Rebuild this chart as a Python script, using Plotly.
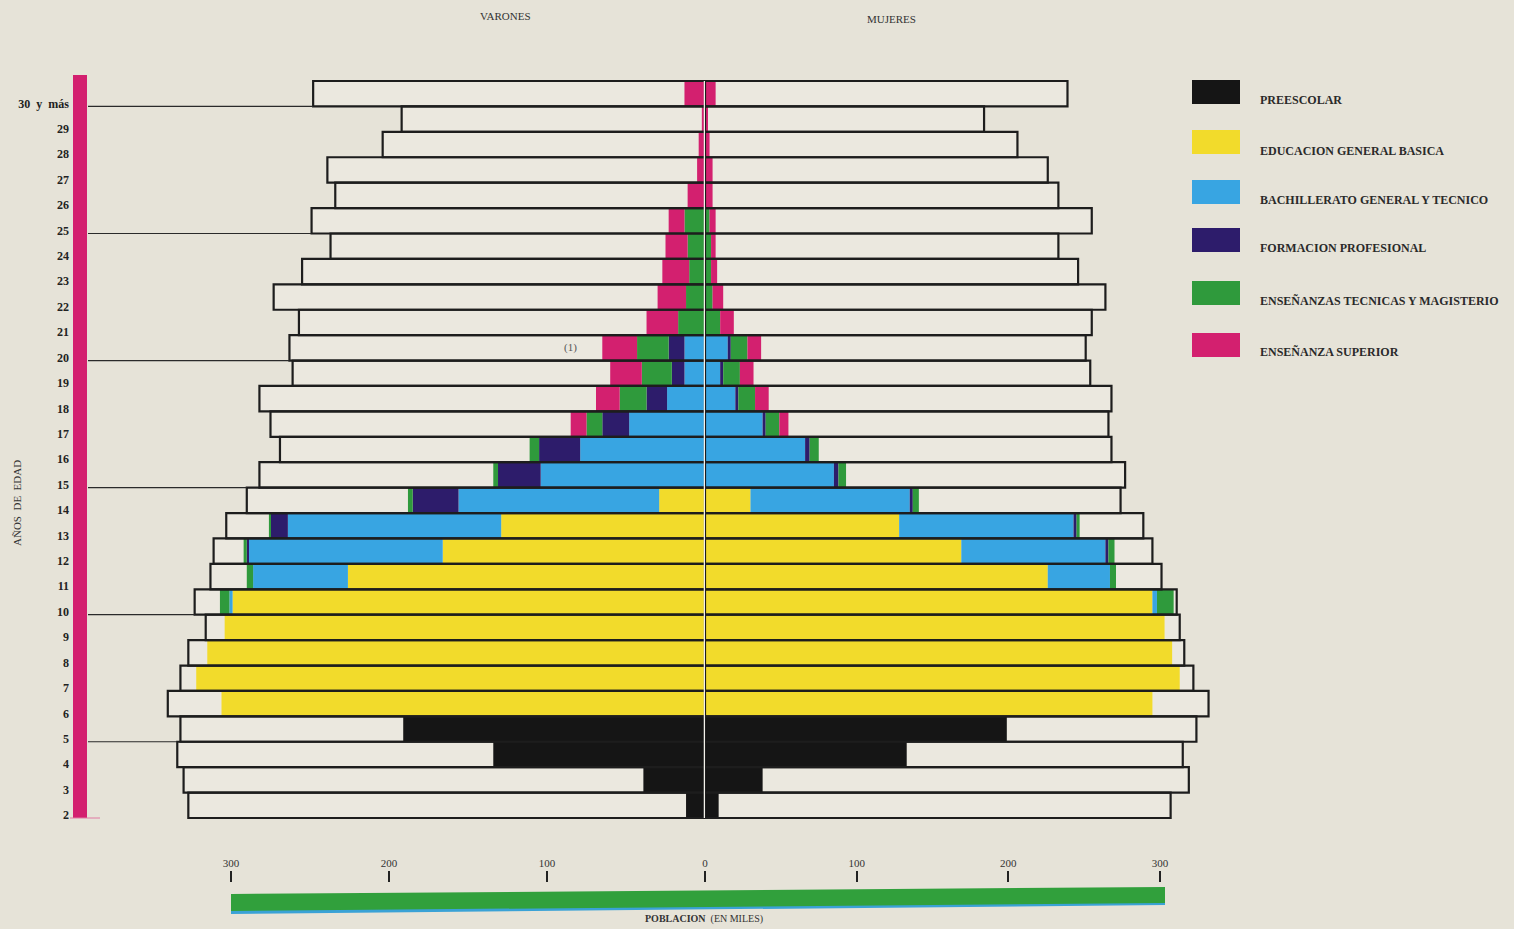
import plotly.graph_objects as go

# ---------------- data (thousands) ----------------
ages = [2, 3, 4, 5, 6, 7, 8, 9, 10, 11, 12, 13, 14, 15, 16, 17, 18, 19, 20, 21, 22, 23, 24, 25, 26, 27, 28, 29, 30]
age_labels = ["2", "3", "4", "5", "6", "7", "8", "9", "10", "11", "12", "13", "14", "15", "16",
              "17", "18", "19", "20", "21", "22", "23", "24", "25", "26", "27", "28", "29", "30  y  más"]

male_pop = [327, 330, 334, 332, 340, 332, 327, 316, 323, 313, 311, 303, 290, 282, 269,
            275, 282, 261, 263, 257, 273, 255, 237, 249, 234, 239, 204, 192, 248]
female_pop = [307, 319, 315, 324, 332, 322, 316, 313, 311, 301, 295, 289, 274, 277, 268,
              266, 268, 254, 251, 255, 264, 246, 233, 255, 233, 226, 206, 184, 239]

#            2   3    4    5    6    7    8    9   10   11   12   13   14   15  16  17  18  19  20  21  22  23  24  25  26 27 28 29 30
preesc_m = [12, 39, 134, 191, 0, 0, 0, 0, 0, 0, 0, 0, 0, 0, 0, 0, 0, 0, 0, 0, 0, 0, 0, 0, 0, 0, 0, 0, 0]
egb_m = [0, 0, 0, 0, 306, 322, 315, 304, 299, 226, 166, 129, 29, 0, 0, 0, 0, 0, 0, 0, 0, 0, 0, 0, 0, 0, 0, 0, 0]
bach_m = [0, 0, 0, 0, 0, 0, 0, 0, 2, 60, 123, 135, 127, 104, 79, 48, 24, 13, 13, 0, 0, 0, 0, 0, 0, 0, 0, 0, 0]
fp_m = [0, 0, 0, 0, 0, 0, 0, 0, 0, 0, 1, 11, 29, 27, 26, 17, 13, 8, 10, 0, 0, 0, 0, 0, 0, 0, 0, 0, 0]
tec_m = [0, 0, 0, 0, 0, 0, 0, 0, 6, 4, 2, 1, 3, 3, 6, 10, 17, 19, 20, 17, 12, 10, 11, 13, 0, 0, 0, 0, 0]
sup_m = [0, 0, 0, 0, 0, 0, 0, 0, 0, 0, 0, 0, 0, 0, 0, 10, 15, 20, 22, 20, 18, 17, 14, 10, 11, 5, 4, 2, 13]

preesc_f = [9, 38, 133, 199, 0, 0, 0, 0, 0, 0, 0, 0, 0, 0, 0, 0, 0, 0, 0, 0, 0, 0, 0, 0, 0, 0, 0, 0, 0]
egb_f = [0, 0, 0, 0, 295, 313, 308, 303, 295, 226, 169, 128, 30, 0, 0, 0, 0, 0, 0, 0, 0, 0, 0, 0, 0, 0, 0, 0, 0]
bach_f = [0, 0, 0, 0, 0, 0, 0, 0, 3, 41, 95, 115, 105, 85, 66, 38, 20, 10, 15, 0, 0, 0, 0, 0, 0, 0, 0, 0, 0]
fp_f = [0, 0, 0, 0, 0, 0, 0, 0, 0, 0, 2, 2, 2, 3, 3, 2, 2, 2, 2, 0, 0, 0, 0, 0, 0, 0, 0, 0, 0]
tec_f = [0, 0, 0, 0, 0, 0, 0, 0, 11, 4, 4, 2, 4, 5, 6, 9, 11, 11, 11, 10, 5, 4, 4, 3, 0, 0, 0, 0, 0]
sup_f = [0, 0, 0, 0, 0, 0, 0, 0, 0, 0, 0, 0, 0, 0, 0, 6, 9, 9, 9, 9, 7, 4, 3, 4, 5, 5, 3, 2, 7]

categories = ["PREESCOLAR", "EDUCACION GENERAL BASICA", "BACHILLERATO GENERAL Y TECNICO",
              "FORMACION PROFESIONAL", "ENSEÑANZAS TECNICAS Y MAGISTERIO", "ENSEÑANZA SUPERIOR"]
colors = ["#151515", "#f2db2b", "#38a5e2", "#2d1c6b", "#2f9a3c", "#d3206f"]
male_series = [preesc_m, egb_m, bach_m, fp_m, tec_m, sup_m]
female_series = [preesc_f, egb_f, bach_f, fp_f, tec_f, sup_f]

axis_ticks = [0, 100, 200, 300]
guide_ages = [30, 25, 20, 15, 10, 5]

# ---------------- layout geometry ----------------
W, H = 1514, 929
L, R, T, B = 88, 300, 62, 47
PW, PH = W - L - R, H - T - B


def pxx(p):
    return (p - L) / PW


def pxy(p):
    return (H - B - p) / PH


male_range = [390.5, 0]
female_range = [0, 335.6]
center = (705 - L) / PW
y_range = [-0.518, 31.748]

BG = "#e6e3d8"
BAR_FILL = "#ebe8df"
INK = "#1d1d1d"
SERIF = "Liberation Serif, Times New Roman, serif"

fig = go.Figure()
yc = [a + 0.5 for a in ages]

# cream population bars (underneath)
for pop, ax in [(male_pop, "x"), (female_pop, "x2")]:
    fig.add_trace(go.Bar(y=yc, x=pop, orientation="h", width=1, xaxis=ax, yaxis="y",
                         marker=dict(color=BAR_FILL, line=dict(width=0)),
                         showlegend=False, hoverinfo="skip"))

# stacked enrollment segments, from centre outward
for series, ax in [(male_series, "x"), (female_series, "x2")]:
    base = [0] * len(ages)
    for vals, col, name in zip(series, colors, categories):
        fig.add_trace(go.Bar(y=yc, x=vals, base=list(base), orientation="h", width=1,
                             xaxis=ax, yaxis="y", name=name,
                             marker=dict(color=col, line=dict(width=0)),
                             showlegend=False, hoverinfo="skip"))
        base = [b + v for b, v in zip(base, vals)]

# black outlines of the population bars (on top)
for pop, ax in [(male_pop, "x"), (female_pop, "x2")]:
    fig.add_trace(go.Bar(y=yc, x=pop, orientation="h", width=1, xaxis=ax, yaxis="y",
                         marker=dict(color="rgba(0,0,0,0)", line=dict(width=2.2, color=INK)),
                         showlegend=False, hoverinfo="skip"))

shapes = []
# magenta vertical bar on the left
shapes.append(dict(type="rect", xref="paper", yref="y", x0=pxx(73), x1=pxx(87), y0=2, y1=31.24,
                   fillcolor="#d3206f", line=dict(width=0), layer="above"))
shapes.append(dict(type="line", xref="paper", yref="y", x0=pxx(70), x1=pxx(100), y0=2, y1=2,
                   line=dict(color="#e07aa3", width=1), layer="above"))
# guide lines every 5 years
for a in guide_ages:
    i = ages.index(a)
    edge = max(male_pop[i], male_pop[i - 1])
    shapes.append(dict(type="line", xref="x", yref="y", x0=male_range[0], x1=edge, y0=a, y1=a,
                       line=dict(color="#2a2a2a", width=1.2), layer="above"))
# white centre line
shapes.append(dict(type="line", xref="x", yref="y", x0=0, x1=0, y0=2, y1=31,
                   line=dict(color="#f4f2eb", width=2.5), layer="above"))

# green population scale bar (slightly tilted, spanning 300 .. 300)
xl, xr = pxx(231), pxx(1165)
blue_edge = "M {a},{b} L {c},{d} L {c},{e} L {a},{f} Z".format(
    a=xl, b=pxy(910), c=xr, d=pxy(902), e=pxy(905), f=pxy(914))
green_body = "M {a},{b} L {c},{d} L {c},{e} L {a},{f} Z".format(
    a=xl, b=pxy(894), c=xr, d=pxy(887), e=pxy(903), f=pxy(911))
shapes.append(dict(type="path", xref="paper", yref="paper", path=blue_edge,
                   fillcolor="#3aa2d6", line=dict(width=0)))
shapes.append(dict(type="path", xref="paper", yref="paper", path=green_body,
                   fillcolor="#31a03c", line=dict(width=0)))

# legend swatches
legend_tops = [80, 130, 180, 228, 281, 333]
legend_text_y = [100, 151, 200, 248, 301, 352]
for top, col in zip(legend_tops, colors):
    shapes.append(dict(type="rect", xref="paper", yref="paper", x0=pxx(1192), x1=pxx(1240),
                       y0=pxy(top + 24), y1=pxy(top), fillcolor=col, line=dict(width=0)))


def note(x, y, text, size=11, color="#333", weight="normal", xanchor="center",
         xref="paper", yref="paper", angle=0):
    return dict(xref=xref, yref=yref, x=x, y=y, text=text, showarrow=False,
                xanchor=xanchor, yanchor="middle", textangle=angle,
                font=dict(family=SERIF, size=size, color=color, weight=weight))


annotations = []
for ty, name in zip(legend_text_y, categories):
    annotations.append(note(pxx(1258), pxy(ty), name, size=12, color="#2a2a2a",
                            weight="bold", xanchor="left"))
annotations += [
    note(pxx(505), pxy(16), "VARONES"),
    note(pxx(891), pxy(19), "MUJERES"),
    note(pxx(17), pxy(503), "AÑOS  DE  EDAD", angle=-90),
    note(85, 20.5, "(1)", color="#555", xref="x", yref="y"),
    note(pxx(704), pxy(919), "<b>POBLACION</b>  (EN MILES)", size=10),
]

tick_common = dict(anchor="free", position=0, side="top", showgrid=False, zeroline=False,
                   showline=False, ticks="outside", ticklen=11, tickwidth=2, tickcolor="#222",
                   tickfont=dict(family=SERIF, size=11, color="#333"), fixedrange=True)

fig.update_layout(
    width=W, height=H,
    margin=dict(l=L, r=R, t=T, b=B),
    paper_bgcolor=BG, plot_bgcolor=BG,
    barmode="overlay",
    showlegend=False,
    xaxis=dict(domain=[0, center], range=male_range, tickvals=axis_ticks,
               ticktext=[str(v) for v in axis_ticks], **tick_common),
    xaxis2=dict(domain=[center, 1], range=female_range, tickvals=axis_ticks[1:],
                ticktext=[str(v) for v in axis_ticks[1:]], **tick_common),
    yaxis=dict(domain=[0, 1], range=y_range, anchor="x", tickvals=[a + 0.12 for a in ages],
               ticktext=age_labels,
               ticks="", showgrid=False, zeroline=False, showline=False, ticklabelstandoff=18,
               tickfont=dict(family=SERIF, size=12, color="#222", weight="bold"), fixedrange=True),
    shapes=shapes,
    annotations=annotations,
)

fig.write_html("out.html", config={"displayModeBar": False},
               post_script="document.body.style.margin='0px';document.body.style.overflow='hidden';")
